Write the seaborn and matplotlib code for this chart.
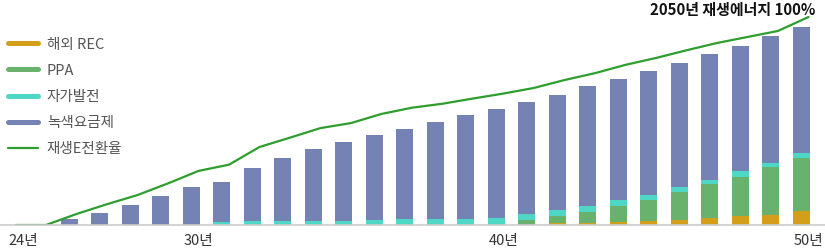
import matplotlib
matplotlib.use("Agg")
import matplotlib.pyplot as plt
from matplotlib.lines import Line2D
import seaborn as sns
import pandas as pd
import numpy as np

years = list(range(2024, 2051))
# stacked components (share, %)
rec_overseas = [0, 0, 0, 0, 0, 0, 0, 0, 0, 0, 0, 0, 0, 0, 0, 0, 0, 0,
                1.0, 1.0, 1.6, 1.9, 2.6, 3.5, 4.5, 4.8, 6.7]
ppa = [0, 0, 0, 0, 0, 0, 0, 0, 0, 0, 0, 0, 0, 0, 0, 0, 0, 2.4,
       3.4, 5.3, 7.5, 10.1, 13.3, 16.2, 18.6, 23.1, 25.5]
self_gen = [0, 0, 0, 0, 0, 0, 0, 1.4, 2.0, 2.0, 2.0, 2.0, 2.4, 2.9, 2.9, 2.9, 3.4, 2.9,
            2.9, 2.9, 2.9, 2.4, 2.4, 1.9, 2.9, 1.9, 2.4]
green_tariff = [0, 0, 2.9, 5.9, 9.6, 14.1, 18.4, 19.3, 25.4, 30.2, 34.5, 37.9, 40.9, 43.3,
                46.6, 50.0, 52.4, 53.8, 55.2, 57.6, 58.2, 59.6, 59.6, 60.8, 60.1, 61.2, 60.6]
transition_rate = [0, 0, 5.3, 10.0, 14.4, 20.0, 26.0, 29.0, 37.5, 42.0, 46.6, 49.0, 53.4,
                   56.4, 58.3, 60.8, 63.2, 65.9, 69.7, 73.0, 77.0, 80.3, 84.0, 87.5, 90.4, 93.3, 100.0]

series_names = ["해외 REC", "PPA", "자가발전", "녹색요금제"]
line_name = "재생E전환율"
tick_years = [2024, 2030, 2040, 2050]
tick_labels = ["24년", "30년", "40년", "50년"]
annotation = "2050년 재생에너지 100%"

colors = ["#D39E1A", "#68B26E", "#4FD7C5", "#7583B4"]
line_color = "#2E9E2E"

sns.set_theme(style="white")
plt.rcParams['font.family'] = ['Noto Sans CJK KR', 'DejaVu Sans']

fig = plt.figure(figsize=(8.25, 2.49), dpi=100)
ax = fig.add_axes([0, 24 / 249, 1, 225 / 249])

bar_shift = -0.23
x = np.array(years, dtype=float)
bottom = np.zeros(len(years))
for name, vals, c in zip(series_names, [rec_overseas, ppa, self_gen, green_tariff], colors):
    v = np.array(vals, dtype=float)
    ax.bar(x + bar_shift, v, bottom=bottom, width=0.557, color=c, linewidth=0, label=name)
    bottom += v

df = pd.DataFrame({"year": x, "rate": transition_rate})
sns.lineplot(data=df, x="year", y="rate", ax=ax, color=line_color, linewidth=1.6, legend=False)

ax.set_xlim(2024 - 15.5 / 30.5, 2024 - 15.5 / 30.5 + 825 / 30.5)
ax.set_ylim(0, 225 / 2.08)
ax.set_xlabel("")
ax.set_ylabel("")
ax.set_yticks([])

tick_pos = [tick_years[0] + bar_shift] + list(tick_years[1:])
ax.set_xticks(tick_pos)
ax.set_xticklabels(tick_labels, fontsize=10.5, color="#333333")
ax.tick_params(axis="x", length=0, pad=6.5)
ax.get_xticklabels()[0].set_ha("left")

for s in ["top", "left", "right"]:
    ax.spines[s].set_visible(False)
ax.spines["bottom"].set_color("#cccccc")
ax.spines["bottom"].set_linewidth(1.2)

handles = [Line2D([0], [0], color=c, lw=3.6) for c in colors]
handles.append(Line2D([0], [0], color=line_color, lw=1.6))
leg = ax.legend(handles, series_names + [line_name], loc="upper left",
                bbox_to_anchor=(8 / 825, 1 - 37.5 / 225), frameon=False, fontsize=10.5,
                handlelength=2.05, handletextpad=0.62, labelspacing=0.83,
                borderaxespad=0, borderpad=0)
for t in leg.get_texts():
    t.set_color("#555555")

ax.text(1 - 10 / 825, 1 - 2 / 225, annotation, transform=ax.transAxes, ha="right", va="top",
        fontsize=10.8, fontweight="bold", color="#111111")

fig.savefig("out.png", dpi=100)
